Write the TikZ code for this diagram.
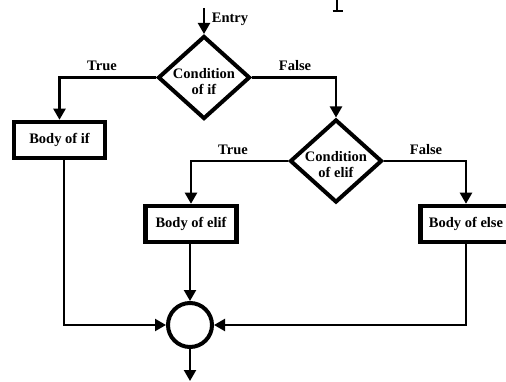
\documentclass[tikz,border=0pt]{standalone}
\usepackage{fontspec}
\setmainfont{Liberation Serif}
\usetikzlibrary{shapes.geometric,arrows.meta}
\begin{document}
\begin{tikzpicture}[x=1pt,y=-1pt,
  every node/.style={font=\bfseries\fontsize{14.5}{16}\selectfont},
  dia/.style={diamond,draw,line width=4pt,inner sep=0pt,minimum width=92pt,minimum height=83pt},
  dtext/.style={align=center,inner sep=0pt},
  boxn/.style={draw,line width=4.5pt,minimum width=91pt,minimum height=36pt,inner sep=0pt},
  joinn/.style={circle,draw,line width=4pt,minimum size=44pt,inner sep=0pt},
  lbl/.style={inner sep=1pt},
  arr/.style={line width=2.2pt,-{Triangle[length=11pt,width=12pt]}},
  plain/.style={line width=2.2pt}]
\useasboundingbox (0,0) rectangle (506,382);
% cropped glyph fragment at top
\draw[line width=2.6pt] (337,0) -- (337,11);
\draw[line width=2.2pt] (332.5,11) -- (342.5,11);
% nodes
\node[dia] (c1) at (204,77.5) {};
\node[dtext] (c1t) at (204,82) {Condition\\of if};
\node[dia] (c2) at (336,161) {};
\node[dtext] (c2t) at (336,165) {Condition\\of elif};
\node[boxn] (bif) at (59.5,140) {Body of if};
\node[boxn] (belif) at (191,224) {Body of elif};
\node[boxn] (belse) at (466,224) {Body of else};
\node[joinn] (m) at (190,325) {};
\coordinate (entry) at (204,8);
\coordinate (exit) at (190,381);
% labels
\node[lbl] (lentry) at (230,19) {Entry};
\node[lbl] (lt1) at (102,66) {True};
\node[lbl] (lf1) at (295,66) {False};
\node[lbl] (lt2) at (233,150) {True};
\node[lbl] (lf2) at (426,150) {False};
% connectors
\draw[arr] (entry) -- (c1.north);
\draw[arr] (c1.west) -| (bif.north);
\draw[arr] (c1.east) -| (c2.north);
\draw[arr] (c2.west) -| (belif.north);
\draw[arr] (c2.east) -| (belse.north);
\draw[arr] ([xshift=4.5pt]bif.south) |- (m.west);
\draw[arr] (m.north |- belif.south) -- (m.north);
\draw[arr] (belse.south) |- (m.east);
\draw[arr] (m.south) -- (exit);
\end{tikzpicture}
\end{document}
